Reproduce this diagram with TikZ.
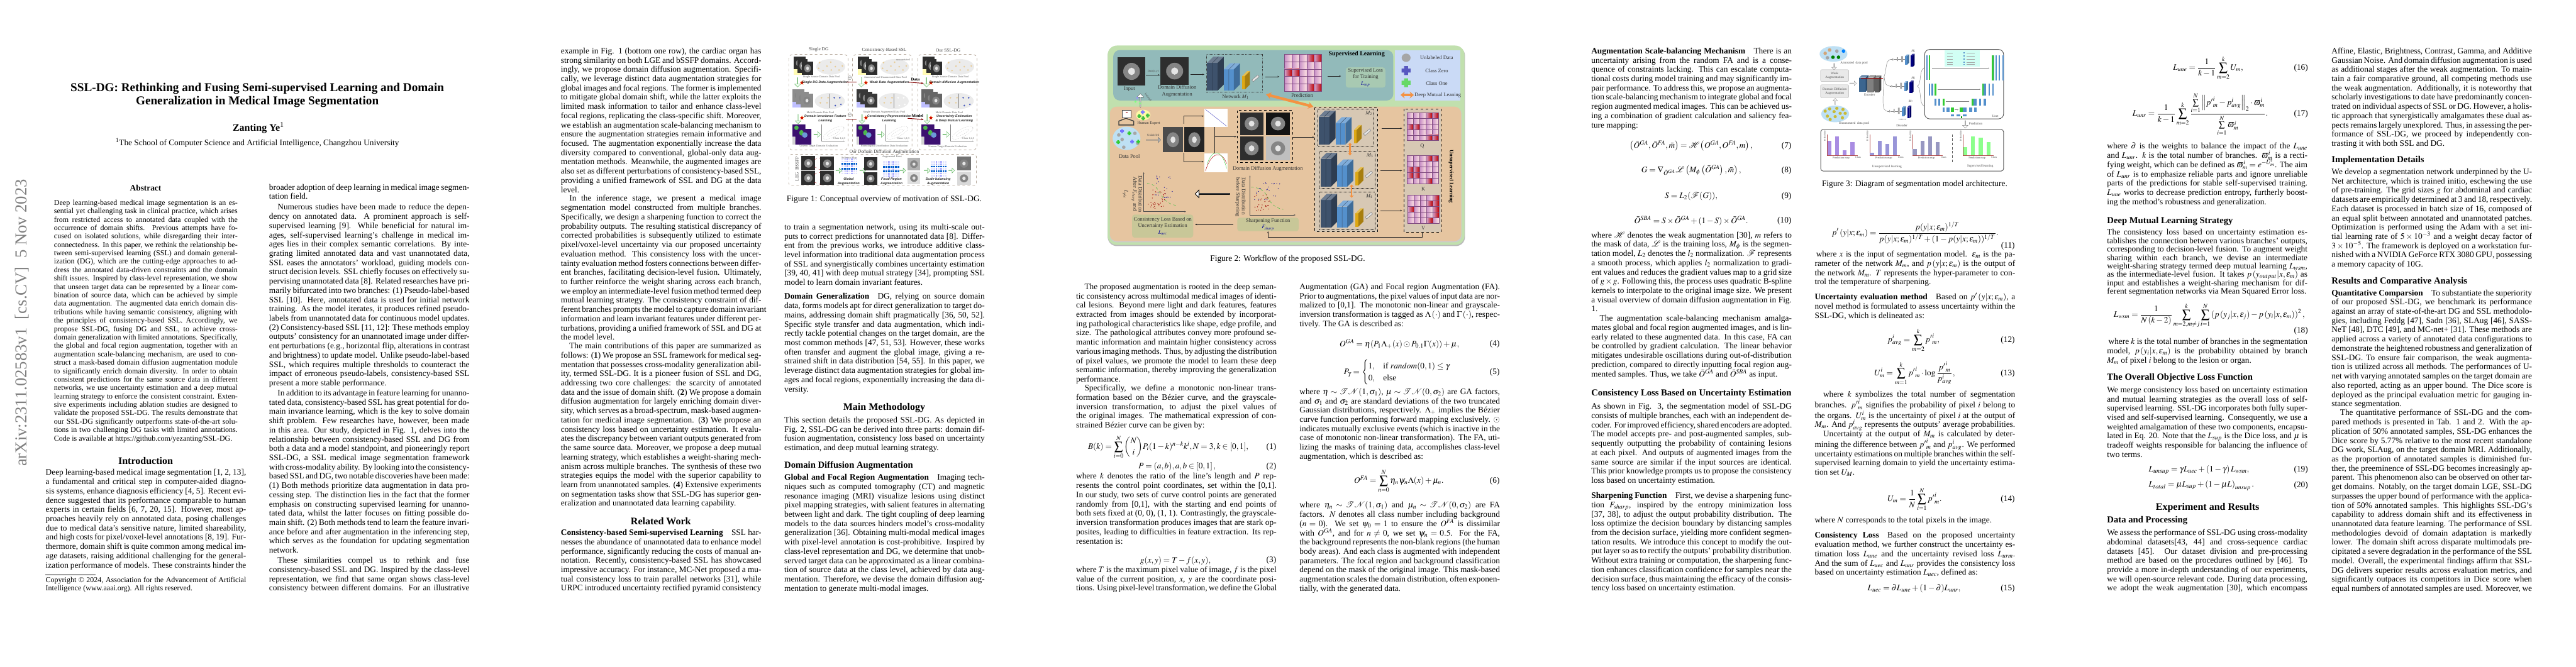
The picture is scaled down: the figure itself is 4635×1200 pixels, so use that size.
\documentclass[tikz,border=0pt]{standalone}
\usepackage{amsmath,amsfonts,amssymb}
\usepackage{mathptmx}
\usepackage[no-math]{fontspec}
\setmainfont{Liberation Serif}
\newfontfamily\figsans{Liberation Sans}
\usetikzlibrary{positioning,shapes.arrows,shapes.geometric,arrows.meta}
\hfuzz=20pt \hbadness=10000 \vbadness=10000
\definecolor{outgreen}{RGB}{193,224,174}
\definecolor{tealpan}{RGB}{146,186,186}
\definecolor{legblue}{RGB}{202,218,246}
\definecolor{orgpan}{RGB}{230,197,160}
\definecolor{tanbox}{RGB}{215,200,180}
\definecolor{lossbox}{RGB}{190,200,150}
\definecolor{suploss}{RGB}{168,201,178}
\definecolor{netdark}{RGB}{62,82,108}
\definecolor{netblue}{RGB}{84,144,204}
\definecolor{netyel}{RGB}{222,168,20}
\definecolor{dmlorange}{RGB}{244,146,66}
\definecolor{dotan}{RGB}{232,204,150}
\definecolor{dotblue}{RGB}{70,90,190}
\definecolor{purp}{RGB}{60,16,112}
\definecolor{poolblue}{RGB}{190,224,244}
\newlength{\colw}
\setlength{\colw}{238bp}
\newcommand{\LL}[1]{\hbox to \colw{\vrule height .66\baselineskip depth .34\baselineskip width 0pt #1}}
\newcommand{\LE}[1]{\hbox{\vrule height .66\baselineskip depth .34\baselineskip width 0pt #1}}
\newcommand{\ind}{\hspace*{10bp}}
\newcommand{\blk}[5]{\node[#1] (#2) at (#3,#4) {\vtop{\lineskiplimit=-100pt #5}};}
\newcommand{\num}[4]{\node[eqnum] (#1) at (#2,#3) {(#4)};}
\newcommand{\scan}[5][black!82]{\fill[#1] (#2,#3) rectangle (#4,#5);
	\fill[black!48] ({(#2+#4)/2},{(#3+#5)/2}) ellipse ({(#4-#2)*.3} and {(#5-#3)*.3});
	\fill[black!10] ({(#2+#4)/2},{(#3+#5)/2}) ellipse ({(#4-#2)*.12} and {(#5-#3)*.13});}
\newcommand{\blockt}[6]{\fill[#6] (#1,#2) rectangle ({#1+#3},{#2+#4});
	\fill[#6!75!white] (#1,#2) -- ({#1+#5},{#2-#5}) -- ({#1+#3+#5},{#2-#5}) -- ({#1+#3},#2) -- cycle;
	\fill[#6!75!black] ({#1+#3},#2) -- ({#1+#3+#5},{#2-#5}) -- ({#1+#3+#5},{#2+#4-#5}) -- ({#1+#3},{#2+#4}) -- cycle;}
\newcommand{\netw}[2]{\begin{scope}[shift={(#1,#2)}]
	\blockt{0}{10}{19}{50}{11}{netdark}
	\draw[netdark!60!black,line width=.3pt] (9.5,10) -- (9.5,60) (9.5,10) -- (20.5,-1);
	\blockt{30}{22}{18}{38}{11}{netblue}
	\draw[netdark,line width=.3pt] (39,22) -- (39,60) (39,22) -- (50,11);
	\blockt{63}{34}{5}{24}{9}{netyel}
	\draw[white,rotate around={40:(87,38)},fill=gray!20,draw=gray] (80,36) rectangle (94,40);
	\end{scope}}
\newcommand{\predgrid}[5]{\begin{scope}[shift={(#1,#2)},x=#3*.13204bp,y=-#4*.13204bp]
	\foreach \r in {0,...,4}\foreach \c in {0,...,4}
		\shade[left color=violet!45!white,right color=pink!45!white,draw=violet!40!gray,line width=.3pt] (\c,\r) rectangle ({\c+1},{\r+1});
	\foreach \r/\c in {#5}
		\shade[left color=violet!35!white,right color=red!75!black,draw=violet!40!gray,line width=.3pt] (\c,\r) rectangle ({\c+1},{\r+1});
	\end{scope}}
\newcommand{\salgrid}[3]{\begin{scope}[shift={(#1,#2)},scale=#3/7]
	\fill[blue!10] (0,0) rectangle (7,7);
	\fill[blue!32] (2,0) rectangle (3,7) (4,0) rectangle (5,7);
	\fill[blue!55!cyan!80!black] (0,2) rectangle (7,3) (0,4) rectangle (7,5);
	\foreach \k in {0,...,7} \draw[white,line width=.2pt] (\k,0) -- (\k,7) (0,\k) -- (7,\k);
	\end{scope}}
\newcommand{\plusdot}[4]{\fill[#4] ({#1-#3},{#2-#3*.45}) rectangle ({#1+#3},{#2+#3*.45}) ({#1-#3*.45},{#2-#3}) rectangle ({#1+#3*.45},{#2+#3});}
\newcommand{\scat}[6]{\foreach \i in {1,...,#6} \fill[#5] ({#1+rnd*#3},{#2+rnd*#4}) circle (.75);}
\newcommand{\decod}[2]{\begin{scope}[shift={(#1,#2)}]
	\fill[gray!70] (0,-2) rectangle (1.5,2) (8,-4) rectangle (10,3) (16,-6) rectangle (19,5);
	\draw[gray,line width=.3pt] (-3,0) -- (0,0) (2,0) -- (8,0) (10,0) -- (16,0) (19,0) -- (23,0);
	\blockt{23}{-6}{4}{15}{3}{netblue}
	\blockt{33}{-7}{4}{20}{3}{blue!50!black}
	\end{scope}}
\newcommand{\figcol}[8]{\begin{scope}[shift={(#1,98)}]
	\draw[dashed,gray!70!brown,rounded corners=5bp,line width=.35pt] (0,0) rectangle (107,172);
	\fill[yellow!30] (9,18) rectangle (28,37);
	\scan{9}{4}{30}{27}
	\scan{16}{8}{34}{33}
	\scan{24}{13}{44}{37}
	\fill[gray!16] (75.7,22.3) ellipse (26 and 14);
	\foreach \a/\b in {55.7/14.7,54/25,62/29,69/21,75.7/14,76.7/28,84/22,90.7/28,96.7/20.7} \fill[dotan] (\a,\b) circle (1.6);
	\node[flab] (#2pool) at (59,41) {#3};
	\node[oarrow,shape border rotate=270,minimum height=11bp] (#2a) at (16,50) {};
	\node[redstar] (#2s) at (24,51) {};
	\node[faug] (#2aug) at (66,50) {#4};
	\fill[blue!25] (7,80) rectangle (28,95);
	\scan[#8]{7}{63}{28}{85}
	\scan[#8]{14}{67}{36}{90}
	\scan[#8]{22}{71}{44}{95}
	\fill[gray!16] (74,84) ellipse (27 and 14.5);
	\draw[gray,line width=.4pt] (74,71) -- (74,97);
	\foreach \a/\b in {59/78,57/87,71/78,69/87} \fill[dotan] (\a,\b) circle (1.6);
	\foreach \a/\b in {82/78,92/78,84/92,94/90} \fill[#7] (\a,\b) circle (1.6);
	\node[flab] (#2mid) at (57,104) {#5};
	\node[oarrow,shape border rotate=270,minimum height=11bp] (#2b) at (17,116) {};
	\node[redstar] (#2t) at (24,114) {};
	\node[faug] (#2fea) at (66,116) {#6};
	\fill[gray!35] (7,140) rectangle (30,162);
	\fill[purp] (7,126) rectangle (30,148) (19,134) rectangle (41,157) (12,142) rectangle (41,162);
	\fill[green!60!black!70] (14,132) ellipse (4 and 4) (23,141) ellipse (4 and 5);
	\fill[cyan!50!blue!60] (29,145) ellipse (5 and 5);
	\node[oarrow,minimum height=8bp] (#2c) at (51,144) {};
	\draw[gray,line width=.3pt,-{Stealth[length=1.5pt]}] (59,126) -- (59,156) -- (101,156);
	\draw[gray,densely dotted,line width=.25pt,rotate around={28:(81,141)}] (81,141) ellipse (21 and 7) (81,141) ellipse (13 and 3);
	\node[flab] (#2cl) at (91,151) {Class 1,2,3};
	\end{scope}}
\tikzset{txt/.style={anchor=north west,inner sep=0pt,yshift=4.9pt,font=\fontsize{10}{11.04}\selectfont},
	abstx/.style={txt,yshift=-.5pt,font=\fontsize{9}{10.04}\selectfont\setlength{\colw}{218bp}},
	foot/.style={txt,yshift=-.5pt,font=\fontsize{9}{10.04}\selectfont},
	narrow/.style={txt,font=\fontsize{10}{10.04}\selectfont},
	head/.style={inner sep=0pt,font=\fontsize{12}{14}\selectfont\bfseries},
	sub/.style={inner sep=0pt,anchor=west,font=\fontsize{11}{13}\selectfont\bfseries},
	capt/.style={inner sep=0pt,font=\fontsize{10}{12}\selectfont},
	eqnode/.style={inner sep=0pt,font=\fontsize{10}{12}\selectfont},
	eqnum/.style={inner sep=0pt,anchor=east,font=\fontsize{10}{12}\selectfont},
	flab/.style={inner sep=0pt,align=center,text=black!62,font=\fontsize{3.3}{4}\selectfont},
	faug/.style={inner sep=0pt,align=center,text=black!85,font=\figsans\fontsize{3.9}{5.2}\selectfont\bfseries\itshape},
	ftitle/.style={inner sep=0pt,text=black!75,font=\fontsize{5.5}{6.5}\selectfont},
	oarrow/.style={single arrow,draw=green!35!gray,fill=green!6,inner sep=0pt,minimum width=7bp,single arrow head extend=1.2bp,line width=.3pt},
	harrow/.style={single arrow,draw=black,fill=white,inner sep=0pt,minimum width=9bp,single arrow head extend=1.6bp,line width=.6pt},
	garrow/.style={single arrow,draw=gray,fill=white,inner sep=0pt,minimum width=6.5bp,single arrow head extend=1.2bp,line width=.3pt},
	redstar/.style={star,star points=5,star point ratio=2.2,fill=red!80!black,draw=orange,line width=.15pt,minimum size=5bp,inner sep=0pt},
	wlab/.style={inner sep=0pt,align=center,text=black!80,font=\fontsize{6.3}{7.6}\selectfont},
	wbox/.style={wlab,rounded corners=3bp,line width=.2pt},
	tinyl/.style={inner sep=0pt,text=black!70,font=\fontsize{3.5}{4}\selectfont},
	slab/.style={inner sep=0pt,align=center,text=black!70,font=\fontsize{3.9}{5}\selectfont},
	arr/.style={-{Stealth[length=2.4pt]},line width=.55pt,black!85},
	augbox/.style={slab,draw=gray!60,fill=gray!17,rounded corners=1.5bp,minimum width=33.5bp,minimum height=14bp,line width=.3pt},
}
\begin{document}
\begin{tikzpicture}[x=.66019bp,y=-.66019bp]
	\useasboundingbox (0,0) rectangle (4635,1200);
	\fill[white] (0,0) rectangle (4635,1200);
	%% page 1
	\node[inner sep=0pt,rotate=90,text=black!50,font=\fontsize{20}{20}\selectfont] (stamp) at (40,581) {arXiv:2311.02583v1\ \ [cs.CV]\ \ 5 Nov 2023};
	\node[inner sep=0pt,font=\fontsize{14.4}{15.6}\selectfont\bfseries,align=center] (title) at (463,171) {SSL-DG: Rethinking and Fusing Semi-supervised Learning and Domain\\Generalization in Medical Image Segmentation};
	\node[inner sep=0pt,font=\fontsize{12}{14}\selectfont\bfseries] (author) at (465,230) {Zanting Ye\textsuperscript{\mdseries 1}};
	\node[capt] (affil) at (463,257) {\textsuperscript{1}The School of Computer Science and Artificial Intelligence, Changzhou University};
	\node[inner sep=0pt,font=\fontsize{10}{12}\selectfont\bfseries] (abshead) at (262,338) {Abstract};
	\blk{abstx}{abs}{97}{365.5}{
		\LL{Deep learning-based medical image segmentation is an es-}
		\LL{sential yet challenging task in clinical practice, which arises}
		\LL{from restricted access to annotated data coupled with the}
		\LL{occurrence of domain shifts. Previous attempts have fo-}
		\LL{cused on isolated solutions, while disregarding their inter-}
		\LL{connectedness. In this paper, we rethink the relationship be-}
		\LL{tween semi-supervised learning (SSL) and domain general-}
		\LL{ization (DG), which are the cutting-edge approaches to ad-}
		\LL{dress the annotated data-driven constraints and the domain}
		\LL{shift issues. Inspired by class-level representation, we show}
		\LL{that unseen target data can be represented by a linear com-}
		\LL{bination of source data, which can be achieved by simple}
		\LL{data augmentation. The augmented data enrich domain dis-}
		\LL{tributions while having semantic consistency, aligning with}
		\LL{the principles of consistency-based SSL. Accordingly, we}
		\LL{propose SSL-DG, fusing DG and SSL, to achieve cross-}
		\LL{domain generalization with limited annotations. Specifically,}
		\LL{the global and focal region augmentation, together with an}
		\LL{augmentation scale-balancing mechanism, are used to con-}
		\LL{struct a mask-based domain diffusion augmentation module}
		\LL{to significantly enrich domain diversity. In order to obtain}
		\LL{consistent predictions for the same source data in different}
		\LL{networks, we use uncertainty estimation and a deep mutual}
		\LL{learning strategy to enforce the consistent constraint. Exten-}
		\LL{sive experiments including ablation studies are designed to}
		\LL{validate the proposed SSL-DG. The results demonstrate that}
		\LL{our SSL-DG significantly outperforms state-of-the-art solu-}
		\LL{tions in two challenging DG tasks with limited annotations.}
		\LE{Code is available at https://github.com/yezanting/SSL-DG.}}
	\node[head] (intro) at (262,829) {Introduction};
	\blk{txt}{introtxt}{82}{851.4}{
		\LL{Deep learning-based medical image segmentation [1, 2, 13],}
		\LL{a fundamental and critical step in computer-aided diagno-}
		\LL{sis systems, enhance diagnosis efficiency [4, 5]. Recent evi-}
		\LL{dence suggested that its performance comparable to human}
		\LL{experts in certain fields [6, 7, 20, 15]. However, most ap-}
		\LL{proaches heavily rely on annotated data, posing challenges}
		\LL{due to medical data's sensitive nature, limited shareability,}
		\LL{and high costs for pixel/voxel-level annotations [8, 19]. Fur-}
		\LL{thermore, domain shift is quite common among medical im-}
		\LL{age datasets, raising additional challenging for the general-}
		\LL{ization performance of models. These constraints hinder the}}
	\coordinate (rulea) at (82,1034);
	\coordinate (ruleb) at (172,1034);
	\draw[line width=.4pt] (rulea) -- (ruleb);
	\blk{foot}{copyr}{82}{1044.7}{
		\LL{Copyright \textcopyright\ 2024, Association for the Advancement of Artificial}
		\LE{Intelligence (www.aaai.org). All rights reserved.}}
	\blk{txt}{pa}{484}{338}{
		\LL{broader adoption of deep learning in medical image segmen-}
		\LE{tation field.}}
	\blk{txt}{pb}{484}{373.9}{
		\LL{\ind Numerous studies have been made to reduce the depen-}
		\LL{dency on annotated data. A prominent approach is self-}
		\LL{supervised learning [9]. While beneficial for natural im-}
		\LL{ages, self-supervised learning's challenge in medical im-}
		\LL{ages lies in their complex semantic correlations. By inte-}
		\LL{grating limited annotated data and vast unannotated data,}
		\LL{SSL eases the annotators' workload, guiding models con-}
		\LL{struct decision levels. SSL chiefly focuses on effectively su-}
		\LL{pervising unannotated data [8]. Related researches have pri-}
		\LL{marily bifurcated into two branches: (1) Pseudo-label-based}
		\LL{SSL [10]. Here, annotated data is used for initial network}
		\LL{training. As the model iterates, it produces refined pseudo-}
		\LL{labels from unannotated data for continuous model updates.}
		\LL{(2) Consistency-based SSL [11, 12]: These methods employ}
		\LL{outputs' consistency for an unannotated image under differ-}
		\LL{ent perturbations (e.g., horizontal flip, alterations in contrast}
		\LL{and brightness) to update model. Unlike pseudo-label-based}
		\LL{SSL, which requires multiple thresholds to counteract the}
		\LL{impact of erroneous pseudo-labels, consistency-based SSL}
		\LE{present a more stable performance.}}
	\blk{txt}{pc}{484}{708.3}{
		\LL{\ind In addition to its advantage in feature learning for unanno-}
		\LL{tated data, consistency-based SSL has great potential for do-}
		\LL{main invariance learning, which is the key to solve domain}
		\LL{shift problem. Few researches have, however, been made}
		\LL{in this area. Our study, depicted in Fig. 1, delves into the}
		\LL{relationship between consistency-based SSL and DG from}
		\LL{both a data and a model standpoint, and pioneeringly report}
		\LL{SSL-DG, a SSL medical image segmentation framework}
		\LL{with cross-modality ability. By looking into the consistency-}
		\LL{based SSL and DG, two notable discoveries have been made:}
		\LL{(1) Both methods prioritize data augmentation in data pro-}
		\LL{cessing step. The distinction lies in the fact that the former}
		\LL{emphasis on constructing supervised learning for unanno-}
		\LL{tated data, whilst the latter focuses on fitting possible do-}
		\LL{main shift. (2) Both methods tend to learn the feature invari-}
		\LL{ance before and after augmentation in the inferencing step,}
		\LL{which serves as the foundation for updating segmentation}
		\LE{network.}}
	\blk{txt}{pd}{484}{1009.5}{
		\LL{\ind These similarities compel us to rethink and fuse}
		\LL{consistency-based SSL and DG. Inspired by the class-level}
		\LL{representation, we find that same organ shows class-level}
		\LL{consistency between different domains. For an illustrative}}
	%% page 2
	\blk{txt}{qa}{1009}{92.6}{
		\LL{example in Fig. 1 (bottom one row), the cardiac organ has}
		\LL{strong similarity on both LGE and bSSFP domains. Accord-}
		\LL{ingly, we propose domain diffusion augmentation. Specifi-}
		\LL{cally, we leverage distinct data augmentation strategies for}
		\LL{global images and focal regions. The former is implemented}
		\LL{to mitigate global domain shift, while the latter exploits the}
		\LL{limited mask information to tailor and enhance class-level}
		\LL{focal regions, replicating the class-specific shift. Moreover,}
		\LL{we establish an augmentation scale-balancing mechanism to}
		\LL{ensure the augmentation strategies remain informative and}
		\LL{focused. The augmentation exponentially increase the data}
		\LL{diversity compared to conventional, global-only data aug-}
		\LL{mentation methods. Meanwhile, the augmented images are}
		\LL{also set as different perturbations of consistency-based SSL,}
		\LL{providing a unified framework of SSL and DG at the data}
		\LE{level.}}
	\blk{txt}{qb}{1009}{358.2}{
		\LL{\ind In the inference stage, we present a medical image}
		\LL{segmentation model constructed from multiple branches.}
		\LL{Specifically, we design a sharpening function to correct the}
		\LL{probability outputs. The resulting statistical discrepancy of}
		\LL{corrected probabilities is subsequently utilized to estimate}
		\LL{pixel/voxel-level uncertainty via our proposed uncertainty}
		\LL{evaluation method. This consistency loss with the uncer-}
		\LL{tainty evaluation method fosters connections between differ-}
		\LL{ent branches, facilitating decision-level fusion. Ultimately,}
		\LL{to further reinforce the weight sharing across each branch,}
		\LL{we employ an intermediate-level fusion method termed deep}
		\LL{mutual learning strategy. The consistency constraint of dif-}
		\LL{ferent branches prompts the model to capture domain invariant}
		\LL{information and learn invariant features under different per-}
		\LL{turbations, providing a unified framework of SSL and DG at}
		\LE{the model level.}}
	\blk{txt}{qc}{1009}{623.7}{
		\LL{\ind The main contributions of this paper are summarized as}
		\LL{follows: (\textbf{1}) We propose an SSL framework for medical seg-}
		\LL{mentation that possesses cross-modality generalization abil-}
		\LL{ity, termed SSL-DG. It is a pioneer fusion of SSL and DG,}
		\LL{addressing two core challenges: the scarcity of annotated}
		\LL{data and the issue of domain shift. (\textbf{2}) We propose a domain}
		\LL{diffusion augmentation for largely enriching domain diver-}
		\LL{sity, which serves as a broad-spectrum, mask-based augmen-}
		\LL{tation for medical image segmentation. (\textbf{3}) We propose an}
		\LL{consistency loss based on uncertainty estimation. It evalu-}
		\LL{ates the discrepancy between variant outputs generated from}
		\LL{the same source data. Moreover, we propose a deep mutual}
		\LL{learning strategy, which establishes a weight-sharing mech-}
		\LL{anism across multiple branches. The synthesis of these two}
		\LL{strategies equips the model with the superior capability to}
		\LL{learn from unannotated samples. (\textbf{4}) Extensive experiments}
		\LL{on segmentation tasks show that SSL-DG has superior gen-}
		\LE{eralization and unannotated data learning capability.}}
	\node[head] (related) at (1189,938) {Related Work};
	\blk{txt}{qd}{1009}{959.7}{
		\LL{\textbf{Consistency-based Semi-supervised Learning}\quad SSL har-}
		\LL{nesses the abundance of unannotated data to enhance model}
		\LL{performance, significantly reducing the costs of manual an-}
		\LL{notation. Recently, consistency-based SSL has showcased}
		\LL{impressive accuracy. For instance, MC-Net proposed a mu-}
		\LL{tual consistency loss to train parallel networks [31], while}
		\LL{URPC introduced uncertainty rectified pyramid consistency}}
	%% figure 1
	\node[ftitle] (t1) at (1473,89) {Single DG};
	\node[ftitle] (t2) at (1591,90) {Consistency-Based SSL};
	\node[ftitle] (t3) at (1706,91) {Our SSL-DG};
	\figcol{1419}{ca}{Single Source Domain Data Pool}{Single DG Data Augmentation}{Multi Domain Data Pool}{Domain Invariance Feature\\Learning}{dotblue}{black!45}
	\figcol{1534}{cb}{Annotated and Unannotated Data Pool}{Weak Data Augmentation}{Single Domain Augmented Data Pool}{Consistency Representation\\Learning}{white}{black!78}
	\figcol{1651}{cc}{Single Source Domain Data Pool}{Domain diffusion Augmentation}{Multi Domain Data Pool}{Uncertainty Estimation\\\& Deep Mutual Learning}{dotblue}{black!60}
	\node[flab] (un1) at (1473,263) {Unseen Target Domain Evaluation};
	\node[flab] (un2) at (1591,263) {Homologous Distribution Data Evaluation};
	\node[flab] (un3) at (1705,264) {Unseen Target Domain Evaluation};
	\node[flab] (unann) at (1625,108) {unannotated};
	\coordinate (dl1) at (1523,148); \coordinate (dl2) at (1541,148);
	\coordinate (ml1) at (1522,214); \coordinate (ml2) at (1541,214);
	\coordinate (dr1) at (1635,148); \coordinate (dr2) at (1662,150);
	\coordinate (mr1) at (1633,213); \coordinate (mr2) at (1662,215);
	\draw[red!50!black,line width=.7pt] (dl1) -- (dl2);
	\draw[red!50!black,line width=.7pt] (ml1) -- (ml2);
	\draw[red!50!black,line width=.7pt,-{Stealth[length=3pt]}] (dr1) -- (dr2);
	\draw[red!50!black,line width=.7pt,-{Stealth[length=3pt]}] (mr1) -- (mr2);
	\node[inner sep=0pt,font=\fontsize{7}{8}\selectfont] (op1) at (1529,141) {$\oplus$};
	\node[inner sep=0pt,font=\fontsize{7}{8}\selectfont] (op2) at (1529,207) {$\oplus$};
	\node[inner sep=0pt,font=\fontsize{5}{6}\selectfont\bfseries] (datal) at (1647,143) {Data};
	\node[inner sep=0pt,font=\fontsize{5}{6}\selectfont\bfseries] (modell) at (1651,208) {Model};
	\node[ftitle] (t4) at (1591,274) {Our Domain Diffusion Augmentation};
	\draw[dashed,gray!70!brown,rounded corners=3bp,line width=.35pt] (1419,278) rectangle (1757,334);
	\node[ftitle,rotate=90] (bs) at (1434,294) {BSSFP};
	\node[ftitle,rotate=90] (lg) at (1434,318) {LEG};
	\scan{1442}{281}{1467}{307}
	\scan{1442}{308}{1467}{333}
	\scan{1476}{282}{1501}{307}
	\scan{1476}{308}{1501}{333}
	\draw[red!60!black,dashed,line width=.25pt] (1465,287) -- (1476,284) (1465,300) -- (1476,306) (1465,314) -- (1476,310) (1465,328) -- (1476,332);
	\salgrid{1513}{284}{30}
	\salgrid{1588}{289}{30}
	\salgrid{1674}{289}{29}
	\node[flab] (sm) at (1528,284) {Saliency Map};
	\node[flab] (ap) at (1605,282) {Augmented Point};
	\node[faug] (ga) at (1527,327) {Global\\Augmentation};
	\node[faug] (fa) at (1604,327) {Focal Region\\Augmentation};
	\node[faug] (sa) at (1688,327) {Scale-balancing\\Augmentation};
	\foreach \ax in {1509,1552,1624,1668,1712} \node[oarrow,minimum height=7bp,minimum width=6bp] at (\ax,307) {};
	\scan{1555}{283}{1578}{307}
	\scan{1555}{310}{1578}{333}
	\scan[black!30]{1633}{284}{1656}{307}
	\scan[black!12]{1633}{309}{1656}{332}
	\scan[black!55]{1722}{282}{1747}{307}
	\scan[black!15]{1722}{309}{1747}{333}
	\node[capt] (cap1) at (1591,358.6) {Figure 1: Conceptual overview of motivation of SSL-DG.};
	%% page 2 column 2
	\blk{txt}{ra}{1411}{409.5}{
		\LL{to train a segmentation network, using its multi-scale out-}
		\LL{puts to correct predictions for unannotated data [8]. Differ-}
		\LL{ent from the previous works, we introduce additive class-}
		\LL{level information into traditional data augmentation process}
		\LL{of SSL and synergistically combines uncertainty estimation}
		\LL{[39, 40, 41] with deep mutual strategy [34], prompting SSL}
		\LE{model to learn domain invariant features.}}
	\blk{txt}{rb}{1411}{534.6}{
		\LL{\textbf{Domain Generalization}\quad DG, relying on source domain}
		\LL{data, forms models apt for direct generalization to target do-}
		\LL{mains, addressing domain shift pragmatically [36, 50, 52].}
		\LL{Specific style transfer and data augmentation, which indi-}
		\LL{rectly tackle potential changes on the target domain, are the}
		\LL{most common methods [47, 51, 53]. However, these works}
		\LL{often transfer and augment the global image, giving a re-}
		\LL{strained shift in data distribution [54, 55]. In this paper, we}
		\LL{leverage distinct data augmentation strategies for global im-}
		\LL{ages and focal regions, exponentially increasing the data di-}
		\LE{versity.}}
	\node[head] (mainm) at (1591,734) {Main Methodology};
	\blk{txt}{rc}{1411}{757}{
		\LL{This section details the proposed SSL-DG. As depicted in}
		\LL{Fig. 2, SSL-DG can be derived into three parts: domain dif-}
		\LL{fusion augmentation, consistency loss based on uncertainty}
		\LE{estimation, and deep mutual learning strategy.}}
	\node[sub] (dda) at (1411,838) {Domain Diffusion Augmentation};
	\blk{txt}{rd}{1411}{860.2}{
		\LL{\textbf{Global and Focal Region Augmentation}\quad Imaging tech-}
		\LL{niques such as computed tomography (CT) and magnetic}
		\LL{resonance imaging (MRI) visualize lesions using distinct}
		\LL{pixel mapping strategies, with salient features in alternating}
		\LL{between light and dark. The tight coupling of deep learning}
		\LL{models to the data sources hinders model's cross-modality}
		\LL{generalization [36]. Obtaining multi-modal medical images}
		\LL{with pixel-level annotation is cost-prohibitive. Inspired by}
		\LL{class-level representation and DG, we determine that unob-}
		\LL{served target data can be approximated as a linear combina-}
		\LL{tion of source data at the class level, achieved by data aug-}
		\LL{mentation. Therefore, we devise the domain diffusion aug-}
		\LE{mentation to generate multi-modal images.}}
	%% figure 2
	\fill[gray!55,rounded corners=11bp] (1993,84) rectangle (2636,443);
	\fill[outgreen,rounded corners=11bp] (1993,82) rectangle (2635,441);
	\fill[tealpan,rounded corners=8bp] (2003,90) rectangle (2507,181);
	\fill[legblue] (2510,90) rectangle (2628,181);
	\fill[gray!40,rounded corners=8bp] (1997,193) rectangle (2630,436);
	\fill[orgpan,rounded corners=8bp] (1997,192) rectangle (2629,434);
	\scan{2011}{103}{2061}{154}
	\scan{2088}{103}{2139}{153}
	\node[wlab] (input) at (2032,160) {Input};
	\node[wlab] (ddlab) at (2118,164) {Domain Diffusion\\Augmentation};
	\coordinate (ia) at (2062,135); \coordinate (ib) at (2087,135);
	\draw[arr] (ia) -- (ib);
	\node[tinyl] (dataxy) at (2075,128) {Data(x,y)};
	\coordinate (ic) at (2142,134); \coordinate (id) at (2167,134);
	\draw[arr] (ic) -- (id);
	\draw[densely dotted,black!80,line width=.6pt] (2171,98) rectangle (2272,166);
	\node[wlab] (netm) at (2223,174) {Network $M_1$};
	\coordinate (ie) at (2277,138); \coordinate (if) at (2302,138);
	\draw[arr] (ie) -- (if);
	\predgrid{2311}{98}{67}{66}{0/3,0/4,2/0,2/1,4/3,4/4}
	\node[wlab] (predl) at (2343,172) {Prediction};
	\node[wlab,font=\fontsize{7.5}{9}\selectfont\bfseries,text=black] (suphead) at (2441,98) {Supervised Learning};
	\coordinate (ig) at (2389,137); \coordinate (ih) at (2413,137);
	\draw[arr] (ig) -- (ih);
	\node[wbox,fill=suploss,minimum width=47bp,minimum height=24bp] (suploss) at (2457,139.5) {Supervised Loss\\for Training\\{\color{blue!60!black}$L_{sup}$}};
	\foreach \ly/\lt in {104/Unlabeled Data,128/Class Zero,150/Class One} \node[wlab] at (2585,\ly) {\lt};
	\fill[black!35] (2530,104) ellipse (8 and 7.5);
	\plusdot{2530}{127}{8}{blue!45!gray!90}
	\plusdot{2530}{149}{8}{green!60!gray!75}
	\node[wlab] (dmll) at (2587,171) {Deep Mutual Leaning};
	\coordinate (lega) at (2520,171); \coordinate (legb) at (2544,171);
	\draw[dmlorange,line width=3pt,{Stealth[length=5pt,width=8pt]}-{Stealth[length=5pt,width=8pt]}] (lega) -- (legb);
	\draw[line width=.7pt,black!70,fill=white] (2019,198) rectangle (2035,212);
	\fill[red!60!black] (2025,201) rectangle (2029,203);
	\draw[line width=1pt,black!75] (2013,225) -- (2013,218) -- (2026,213) -- (2040,218) -- (2040,225) -- cycle;
	\fill[yellow!35!white] (2057,207) ellipse (13 and 9.5);
	\plusdot{2056}{202}{3.5}{blue!50}
	\plusdot{2065}{208}{3.5}{green!50!gray}
	\plusdot{2050}{209}{3.5}{green!50!gray}
	\plusdot{2057}{213}{3.5}{green!50!gray}
	\node[wlab,font=\fontsize{4.6}{5}\selectfont] (hexp) at (2067,222) {Human Expert};
	\node[garrow,draw=black!75,shape border rotate=118,minimum height=16bp,minimum width=8bp] (labarrow) at (2052,181) {};
	\node[tinyl,rotate=-52] (lablab) at (2066,175) {Labeled};
	\plusdot{2046}{176}{1.8}{blue!40}
	\plusdot{2051}{186}{1.8}{green!50}
	\plusdot{2043}{183}{1.8}{green!50}
	\fill[poolblue] (2027,249) ellipse (25 and 21);
	\foreach \a/\b in {2047/258,2042/240,2022/265,2019/251,2013/243} \fill[black!35] (\a,\b) circle (3.2);
	\foreach \a/\b/\c in {2019/236/blue!55,2037/255/blue!55,2032/240/green!60!gray,2012/256/green!60!gray,2048/255/green!60!gray} {\plusdot{\a}{\b}{3.4}{\c}}
	\node[wlab] (dpool) at (2032,281) {Data Pool};
	\node[garrow,draw=black!55,fill=black!30,minimum height=17.5bp] (unlab) at (2075,252) {};
	\node[tinyl] (unll) at (2075,243) {Unlabeled};
	\scan[black!70]{2092}{229}{2129}{274}
	\scan[black!85]{2131}{229}{2167}{274}
	\fill[white] (2167,196) rectangle (2209,229);
	\draw[blue!50!gray,line width=.3pt] (2169,197) -- (2207,227);
	\fill[white] (2167,276) rectangle (2209,310);
	\draw[red!70!black,line width=.35pt] (2169,308) .. controls (2180,270) and (2200,272) .. (2207,295);
	\draw[green!60!gray,line width=.3pt] (2172,296) .. controls (2180,268) and (2198,266) .. (2207,303);
	\coordinate (ba) at (2130,223); \coordinate (bb) at (2130,209); \coordinate (bc) at (2166,209);
	\coordinate (bd) at (2130,275); \coordinate (be) at (2130,291); \coordinate (bf) at (2166,291);
	\draw[arr] (ba) -- (bb) -- (bc);
	\draw[arr] (bd) -- (be) -- (bf);
	\coordinate (va) at (2185,229); \coordinate (vb) at (2185,276); \coordinate (vc) at (2185,246); \coordinate (vd) at (2225,246);
	\draw[line width=.55pt,black!85] (va) -- (vb);
	\draw[arr] (vc) -- (vd);
	\draw[dashed,line width=.8pt] (2226,199) rectangle (2326,293);
	\scan{2231}{202}{2273}{243}
	\scan[black!92]{2278}{202}{2321}{243}
	\scan{2231}{246}{2273}{288}
	\scan[black!25]{2278}{246}{2321}{288}
	\node[wlab] (ddaug) at (2281,304) {Domain Diffusion Augmentation};
	\coordinate (da) at (2326,247); \coordinate (db) at (2365,247);
	\draw[arr] (da) -- (db);
	\draw[dashed,line width=.8pt,fill=tanbox] (2366,194) rectangle (2479,417);
	\draw[densely dotted,line width=.5pt] (2371,196) rectangle (2472,263) (2373,272) rectangle (2474,339) (2373,346) rectangle (2474,413);
	\foreach \bx/\by in {2373/200,2376/276,2376/350} {\netw{\bx}{\by}}
	\netw{2172}{103}
	\node[wlab] (m2) at (2463,204) {$M_2$};
	\node[wlab] (m3) at (2465,280) {$M_3$};
	\node[wlab] (m4) at (2464,353) {$M_4$};
	\coordinate (oa) at (2429,257); \coordinate (ob) at (2429,280); \coordinate (oc) at (2432,332); \coordinate (od) at (2432,356);
	\draw[dmlorange,line width=1.7pt,{Stealth[length=3pt,width=5pt]}-{Stealth[length=3pt,width=5pt]}] (oa) -- (ob);
	\draw[dmlorange,line width=1.7pt,{Stealth[length=3pt,width=5pt]}-{Stealth[length=3pt,width=5pt]}] (oc) -- (od);
	\coordinate (oe) at (2278,170); \coordinate (of) at (2363,192);
	\draw[dmlorange,line width=3.2pt,{Stealth[length=6pt,width=8pt]}-{Stealth[length=6pt,width=8pt]}] (oe) -- (of);
	\draw[dashed,line width=.8pt,fill=tanbox] (2526,196) rectangle (2593,418);
	\predgrid{2532}{203}{56}{50}{0/3,0/4,2/0,2/1,4/3,4/4}
	\predgrid{2532}{280}{56}{51}{0/3,0/4,2/0,2/1,3/0,3/1,4/3}
	\predgrid{2533}{351}{56}{51}{0/4,1/3,1/4,2/0,2/4,3/4,4/3}
	\node[wlab] (qlab) at (2559,263) {Q};
	\node[wlab] (klab) at (2561,340) {K};
	\node[wlab] (vlab) at (2561,410) {V};
	\foreach \ay/\ax in {231/2486,307/2484,379/2484} \draw[arr] (\ax,\ay) -- (2523,\ay);
	\node[wlab,rotate=-90,text=black,font=\fontsize{6.3}{7.5}\selectfont\bfseries] (unsup) at (2611,318) {Unsupervised Learning};
	\node[wbox,fill=lossbox!75!orgpan,minimum width=73bp,minimum height=16bp] (sharp) at (2281.5,404) {Sharpening Function\\{\color{blue!60!black}$F_{sharp}$}};
	\node[wbox,fill=lossbox!75!orgpan,minimum width=72.5bp,minimum height=27.5bp] (cons) at (2092,407) {Consistency Loss Based on\\Uncertainty Estimation\\{\color{blue!60!black}$L_{uec}$}};
	\coordinate (sa1) at (2219,404); \coordinate (sa2) at (2150,404);
	\draw[arr] (sa1) -- (sa2);
	\coordinate (fb1) at (2559,418); \coordinate (fb2) at (2559,427); \coordinate (fb3) at (2281.5,427);
	\draw[arr] (fb1) -- (fb2) -- (fb3) -- (sharp.south);
	\draw[black!70,line width=.3pt,{Stealth[length=2pt]}-{Stealth[length=2pt]}] (2058,310) -- (2058,381) -- (2134,381);
	\draw[black!70,line width=.3pt,{Stealth[length=2pt]}-{Stealth[length=2pt]}] (2249,316) -- (2249,387) -- (2331,387);
	\pgfmathsetseed{17}
	\scat{2078}{315}{32}{42}{blue!60!black}{24}
	\scat{2065}{340}{33}{35}{red!60!black}{38}
	\scat{2257}{328}{46}{35}{blue!60!black}{24}
	\scat{2257}{348}{31}{32}{red!60!black}{32}
	\draw[dashed,green!50!gray,line width=.4pt] (2064,330) .. controls (2092,332) and (2082,365) .. (2118,370);
	\draw[dashed,green!50!gray,line width=.4pt] (2251,337) .. controls (2290,338) and (2272,370) .. (2309,377);
	\node[wlab,rotate=-90] (dd1) at (2052,349) {Data Distribution};
	\node[wlab,rotate=-90] (dd2) at (2041,349) {After $F_{sharp}$ and};
	\node[wlab,rotate=-90] (dd3) at (2025,350) {$L_{plc}$};
	\node[wlab,rotate=-90] (dd4) at (2238,353) {Data Distribution};
	\node[wlab,rotate=-90] (dd5) at (2227,355) {before Sharpening};
	\node[harrow,shape border rotate=180,minimum height=41bp] (hollow) at (2182,349) {};
	\node[capt] (cap2) at (2317,466) {Figure 2: Workflow of the proposed SSL-DG.};
	%% page 3
	\blk{txt}{sa}{1936}{517}{
		\LL{\ind The proposed augmentation is rooted in the deep seman-}
		\LL{tic consistency across multimodal medical images of identi-}
		\LL{cal lesions. Beyond mere light and dark features, features}
		\LL{extracted from images should be extended by incorporat-}
		\LL{ing pathological characteristics like shape, edge profile, and}
		\LL{size. The pathological attributes convey more profound se-}
		\LL{mantic information and maintain higher consistency across}
		\LL{various imaging methods. Thus, by adjusting the distribution}
		\LL{of pixel values, we promote the model to learn these deep}
		\LL{semantic information, thereby improving the generalization}
		\LE{performance.}}
	\blk{txt}{sb}{1936}{699.5}{
		\LL{\ind Specifically, we define a monotonic non-linear trans-}
		\LL{formation based on the Bézier curve, and the grayscale-}
		\LL{inversion transformation, to adjust the pixel values of}
		\LL{the original images. The mathematical expression of con-}
		\LE{strained Bézier curve can be given by:}}
	\node[eqnode] (eq1) at (2102,804.7) {$\displaystyle B(k)=\sum_{i=0}^{N}\binom{N}{i}P_i(1-k)^{n-k}k^i,N=3,k\in[0,1],$};
	\num{n1}{2296.5}{804.7}{1}
	\node[eqnode] (eq2) at (2118,840) {$P=(a,b),a,b\in[0,1]\,,$};
	\num{n2}{2296.5}{840}{2}
	\blk{txt}{sc}{1936}{858.3}{
		\LL{where $k$ denotes the ratio of the line's length and $P$ rep-}
		\LL{resents the control point coordinates, set within the [0,1].}
		\LL{In our study, two sets of curve control points are generated}
		\LL{randomly from [0,1], with the starting and end points of}
		\LL{both sets fixed at (0, 0), (1, 1). Contrastingly, the grayscale-}
		\LL{inversion transformation produces images that are stark op-}
		\LL{posites, leading to difficulties in feature extraction. Its rep-}
		\LE{resentation is:}}
	\node[eqnode] (eq3) at (2115,1009) {$g(x,y)=T-f(x,y),$};
	\num{n3}{2296.5}{1009}{3}
	\blk{txt}{sd}{1936}{1026.3}{
		\LL{where $T$ is the maximum pixel value of image, $f$ is the pixel}
		\LL{value of the current position, $x$, $y$ are the coordinate posi-}
		\LL{tions. Using pixel-level transformation, we define the Global}}
	\blk{txt}{se}{2338}{517}{
		\LL{Augmentation (GA) and Focal region Augmentation (FA).}
		\LL{Prior to augmentations, the pixel values of input data are nor-}
		\LL{malized to [0,1]. The monotonic non-linear and grayscale-}
		\LL{inversion transformation is tagged as $\Lambda\left(\cdot\right)$ and $\Gamma\left(\cdot\right)$, respec-}
		\LE{tively. The GA is described as:}}
	\node[eqnode] (eq4) at (2518,619) {$O^{GA}=\eta(P_1\Lambda_{+}(x)\odot P_{0.1}\Gamma(x))+\mu,$};
	\num{n4}{2698.5}{619}{4}
	\node[eqnode] (eq5) at (2514,670) {$P_\gamma=\begin{cases}1, & \text{if } random(0,1)\le\gamma\\ 0, & \text{else}\end{cases}$};
	\num{n5}{2698.5}{670}{5}
	\blk{txt}{sf}{2338}{705.6}{
		\LL{where $\eta\sim\mathcal{TN}(1,\sigma_1)$, $\mu\sim\mathcal{TN}(0,\sigma_2)$ are GA factors,}
		\LL{and $\sigma_1$ and $\sigma_2$ are standard deviations of the two truncated}
		\LL{Gaussian distributions, respectively. $\Lambda_{+}$ implies the Bézier}
		\LL{curve function performing forward mapping exclusively. $\odot$}
		\LL{indicates mutually exclusive events (which is inactive in the}
		\LL{case of monotonic non-linear transformation). The FA, uti-}
		\LL{lizing the masks of training data, accomplishes class-level}
		\LE{augmentation, which is described as:}}
	\node[eqnode] (eq6) at (2517,866) {$\displaystyle O^{FA}=\sum_{n=0}^{N}\eta_n\psi_n\Lambda(x)+\mu_n.$};
	\num{n6}{2698.5}{866}{6}
	\blk{txt}{sg}{2338}{910}{
		\LL{where $\eta_n\sim\mathcal{TN}(1,\sigma_1)$ and $\mu_n\sim\mathcal{TN}(0,\sigma_2)$ are FA}
		\LL{factors. $N$ denotes all class number including background}
		\LL{($n=0$). We set $\psi_0=1$ to ensure the $O^{FA}$ is dissimilar}
		\LL{with $O^{GA}$, and for $n\neq 0$, we set $\psi_n=0.5$. For the FA,}
		\LL{the background represents the non-blank regions (the human}
		\LL{body areas). And each class is augmented with independent}
		\LL{parameters. The focal region and background classification}
		\LL{depend on the mask of the original image. This mask-based}
		\LL{augmentation scales the domain distribution, often exponen-}
		\LE{tially, with the generated data.}}
	%% page 4
	\blk{txt}{ta}{2863}{92.6}{
		\LL{\textbf{Augmentation Scale-balancing Mechanism}\quad There is an}
		\LL{uncertainty arising from the random FA and is a conse-}
		\LL{quence of constraints lacking. This can escalate computa-}
		\LL{tional costs during model training and may significantly im-}
		\LL{pair performance. To address this, we propose an augmenta-}
		\LL{tion scale-balancing mechanism to integrate global and focal}
		\LL{region augmented medical images. This can be achieved us-}
		\LL{ing a combination of gradient calculation and saliency fea-}
		\LE{ture mapping:}}
	\node[eqnode] (eq7) at (3043,262.5) {$\left(\bar{O}^{GA},\bar{O}^{FA},\bar{m}\right)=\mathcal{H}\left(O^{GA},O^{FA},m\right),$};
	\num{n7}{3223.5}{262.5}{7}
	\node[eqnode] (eq8) at (3043,307) {$G=\nabla_{\bar{O}^{GA}}\mathcal{L}\left(M_\phi\left(\bar{O}^{GA}\right),\bar{m}\right),$};
	\num{n8}{3223.5}{307}{8}
	\node[eqnode] (eq9) at (3043,353) {$S=L_2(\mathcal{F}(G)),$};
	\num{n9}{3223.5}{353}{9}
	\node[eqnode] (eq10) at (3043,398) {$\bar{O}^{SBA}=S\times\bar{O}^{GA}+(1-S)\times\bar{O}^{GA}.$};
	\num{n10}{3223.5}{398}{10}
	\blk{txt}{tb}{2863}{424}{
		\LL{where $\mathcal{H}$ denotes the weak augmentation [30], $m$ refers to}
		\LL{the mask of data, $\mathcal{L}$ is the training loss, $M_\phi$ is the segmen-}
		\LL{tation model, $L_2$ denotes the $l_2$ normalization. $\mathcal{F}$ represents}
		\LL{a smooth process, which applies $l_2$ normalization to gradi-}
		\LL{ent values and reduces the gradient values map to a grid size}
		\LL{of $g\times g$. Following this, the process uses quadratic B-spline}
		\LL{kernels to interpolate to the original image size. We present}
		\LL{a visual overview of domain diffusion augmentation in Fig.}
		\LE{1.}}
	\blk{txt}{tc}{2863}{574}{
		\LL{\ind The augmentation scale-balancing mechanism amalga-}
		\LL{mates global and focal region augmented images, and is lin-}
		\LL{early related to these augmented data. In this case, FA can}
		\LL{be controlled by gradient calculation. The linear behavior}
		\LL{mitigates undesirable oscillations during out-of-distribution}
		\LL{prediction, compared to directly inputting focal region aug-}
		\LE{mented samples. Thus, we take $\bar{O}^{GA}$ and $\bar{O}^{SBA}$ as input.}}
	\node[sub] (clb) at (2863,708) {Consistency Loss Based on Uncertainty Estimation};
	\blk{txt}{td}{2863}{732.4}{
		\LL{As shown in Fig. 3, the segmentation model of SSL-DG}
		\LL{consists of multiple branches, each with an independent de-}
		\LL{coder. For improved efficiency, shared encoders are adopted.}
		\LL{The model accepts pre- and post-augmented samples, sub-}
		\LL{sequently outputting the probability of containing lesions}
		\LL{at each pixel. And outputs of augmented images from the}
		\LL{same source are similar if the input sources are identical.}
		\LL{This prior knowledge prompts us to propose the consistency}
		\LE{loss based on uncertainty estimation.}}
	\blk{txt}{te}{2863}{893}{
		\LL{\textbf{Sharpening Function}\quad First, we devise a sharpening func-}
		\LL{tion $F_{sharp}$, inspired by the entropy minimization loss}
		\LL{[37, 38], to adjust the output probability distribution. The}
		\LL{loss optimize the decision boundary by distancing samples}
		\LL{from the decision surface, yielding more confident segmen-}
		\LL{tation results. We introduce this concept to modify the out-}
		\LL{put layer so as to rectify the outputs' probability distribution.}
		\LL{Without extra training or computation, the sharpening func-}
		\LL{tion enhances classification confidence for samples near the}
		\LL{decision surface, thus maintaining the efficacy of the consis-}
		\LE{tency loss based on uncertainty estimation.}}
	%% figure 3
	\fill[poolblue] (3299,97) ellipse (25 and 14);
	\foreach \a/\b/\c in {3284/96/brown!70,3292/90/brown!70,3305/92/black!35,3317/92/blue!50!cyan,3288/104/black!35,3298/103/green!50!black,3308/103/green!50!black} \fill[\c] (\a,\b) circle (3.2);
	\node[slab] (apool) at (3336,113) {Annotated\ \ data pool};
	\node[augbox] (weak) at (3301,136) {Weak\\Augmentation};
	\node[augbox,below=3.6bp of weak,minimum height=15.5bp] (ddbox) {Domain Diffusion\\Augmentation};
	\node[garrow,shape border rotate=270,minimum height=7.5bp,minimum width=5.5bp] (aa) at (3300,119.5) {};
	\node[garrow,shape border rotate=90,minimum height=7.5bp,minimum width=5.5bp] (ab) at (3302,183) {};
	\node[garrow,minimum height=8bp,minimum width=5.5bp] (ac) at (3334,150) {};
	\fill[poolblue] (3302,205) ellipse (25 and 15);
	\foreach \a/\b in {3284/200,3292/196,3305/195,3316/197,3320/204,3300/201,3311/204,3288/209,3302/210,3315/212,3293/215} \fill[brown!35!yellow!70!gray] (\a,\b) circle (2.9);
	\node[slab] (upool) at (3336,222) {Unannotated\ \ data pool};
	\blockt{3345}{140}{12}{25}{5}{netblue!70!black}
	\blockt{3360}{140}{11}{26}{5}{gray}
	\blockt{3373}{140}{8}{26}{4}{gray!75!black}
	\draw[red!60!black,line width=.3pt] (3348,141) -- (3388,141);
	\node[slab] (encod) at (3364,171) {Encoder};
	\foreach \dx/\dy in {3405/107,3403/155,3399/200} {\decod{\dx}{\dy}}
	\node[slab] (md1) at (3443,92) {$M_1$};
	\node[slab] (md2) at (3443,141) {$M_2$};
	\node[slab] (md3) at (3438,182) {$M_3$};
	\node[slab,font=\fontsize{6}{6}\selectfont\bfseries] (ddots) at (3423,215) {......};
	\node[slab] (decl) at (3422,226) {Decoder};
	\coordinate (ef) at (3390,138);
	\draw[gray,line width=.35pt] (ef) .. controls (3395,125) and (3392,110) .. (3401,107);
	\draw[gray,line width=.35pt] (ef) .. controls (3392,150) and (3392,155) .. (3402,155);
	\draw[gray,line width=.35pt] (ef) .. controls (3388,180) and (3385,200) .. (3396,200);
	\draw[black!65,line width=.7pt,rounded corners=6bp,fill=white] (3463,89) rectangle (3605,214);
	\draw[gray,line width=.35pt] (3462,122) .. controls (3452,128) and (3458,150) .. (3450,155) .. controls (3458,160) and (3452,186) .. (3462,191);
	\begin{scope}[shift={(3260,75)},scale=1/3]
		\fill[green!25!cyan!18] (716,45) rectangle (908,135);
		\foreach \ly in {60,77,94,111,122} {\fill[gray!70] (730,\ly) rectangle (760,{\ly+2}); \fill[gray!70] (835,\ly) rectangle (880,{\ly+2}); \fill[netblue] (820,{\ly-2}) rectangle (826,{\ly+4});}
		\foreach \xa/\ya/\xb/\yb/\cl in {618/75/625/205/netblue,630/75/637/205/green!60!gray,970/75/980/210/green!60!gray,980/75/984/210/netblue,993/75/998/210/netblue,1010/75/1015/210/netblue,1030/75/1035/210/netblue,632/225/640/292/netblue,645/225/655/292/netblue,662/225/672/292/green!60!gray,920/225/928/292/green!60!gray,928/225/940/292/netblue,955/225/962/292/netblue,975/225/982/292/netblue,662/308/672/345/netblue,683/308/693/345/netblue,705/308/717/345/green!60!gray,862/308/874/345/green!60!gray,874/308/888/345/netblue,902/308/913/345/netblue,928/308/940/345/netblue,705/357/716/380/netblue,728/357/742/380/netblue,752/357/767/380/green!60!gray,798/357/814/380/green!60!gray,814/357/835/380/netblue,850/357/865/380/netblue,877/357/890/380/netblue,752/393/766/403/netblue,780/393/800/403/netblue,815/393/835/403/netblue,804/404/810/412/green!60!black}
			\fill[\cl] (\xa,\ya) rectangle (\xb,\yb);
		\foreach \xa/\xb/\ay in {650/958/143,680/910/258,722/850/323,772/792/368} \draw[gray,line width=.3pt,-{Stealth[length=1.5pt]}] (\xa,\ay) -- (\xb,\ay);
		\foreach \ox/\cl/\ba/\bb/\bc/\bd in {82/violet!50!blue!45/537/513/587/541,312/blue!45!cyan!45!violet!55/600/535/551/510,543/blue!25!gray!65/580/536/513/541,816/green!45/568/513/518/541} {
			\draw[red!40!gray,line width=.3pt] (\ox,500) -- (\ox,613) -- ({\ox+165},613);
			\fill[\cl] ({\ox+2},\ba) rectangle ({\ox+23},612);
			\fill[\cl] ({\ox+43},\bb) rectangle ({\ox+64},612);
			\fill[\cl] ({\ox+85},\bc) rectangle ({\ox+106},612);
			\fill[\cl] ({\ox+127},\bd) rectangle ({\ox+148},612);
			\node[slab,rotate=90,font=\fontsize{2.8}{3}\selectfont] at ({\ox-11},508) {Probability};
			\node[slab,font=\fontsize{3.3}{4}\selectfont] at ({\ox+76},628) {Prediction map};
			\node[slab,font=\fontsize{3}{4}\selectfont] at ({\ox+168},625) {Class};
		}
		\draw[densely dashed,black!65,line width=.4pt] (757,500) -- (757,657);
	\end{scope}
	\node[slab] (unet) at (3590,209) {Unet};
	\node[garrow,shape border rotate=270,minimum height=9bp,minimum width=6.5bp] (parr) at (3536,223.5) {};
	\node[slab] (predict) at (3555,223) {Prediction};
	\draw[black!65,line width=.7pt,rounded corners=3bp] (3276,233) rectangle (3605,308);
	\node[slab] (unsl) at (3395,300) {Unsupervised learning};
	\node[slab] (supl) at (3563,299) {Supervised learning};
	\node[capt] (cap3) at (3445,332) {Figure 3: Diagram of segmentation model architecture.};
	%% page 4 column 2
	\node[eqnode] (eq11) at (3446,419) {$\displaystyle p'\left(y|x;\varepsilon_m\right)=\frac{p(y|x;\varepsilon_m)^{1/T}}{p(y|x;\varepsilon_m)^{1/T}+(1-p(y|x;\varepsilon_m))^{1/T}}.$};
	\num{n11}{3625.5}{443}{11}
	\blk{txt}{ua}{3265}{458.5}{
		\LL{\,where $x$ is the input of segmentation model. $\varepsilon_m$ is the pa-}
		\LL{rameter of the network $M_m$, and $p\left(y|x;\varepsilon_m\right)$ is the output of}
		\LL{the network $M_m$. $T$ represents the hyper-parameter to con-}
		\LE{trol the temperature of sharpening.}}
	\blk{txt}{ub}{3265}{535}{
		\LL{\textbf{Uncertainty evaluation method}\quad Based on $p'\left(y|x;\varepsilon_m\right)$, a}
		\LL{novel method is formulated to assess uncertainty within the}
		\LE{SSL-DG, which is delineated as:}}
	\node[eqnode] (eq12) at (3443,612) {$\displaystyle p_{avg}^{i}=\sum_{m=2}^{k}{p'}_{m}^{i},$};
	\num{n12}{3625.5}{612}{12}
	\node[eqnode] (eq13) at (3445,672) {$\displaystyle U_m^i=\sum_{m=1}^{k}{p'}_{m}^{i}\cdot\log\frac{{p'}_{m}^{i}}{p_{avg}^{i}},$};
	\num{n13}{3625.5}{672}{13}
	\blk{txt}{uc}{3265}{711}{
		\LL{\ind where $k$ symbolizes the total number of segmentation}
		\vskip1.6pt
		\LL{branches. ${p'}_{m}^{i}$ signifies the probability of pixel $i$ belong to}
		\vskip1.3pt
		\LL{the organs. $U_m^i$ is the uncertainty of pixel $i$ at the output of}
		\LL{$M_m$. And $p_{avg}^{i}$ represents the outputs' average probabilities.}
		\LL{\ind Uncertainty at the output of $M_m$ is calculated by deter-}
		\vskip1.6pt
		\LL{mining the difference between ${p'}_{m}^{i}$ and $p_{avg}^{i}$. We performed}
		\LL{uncertainty estimations on multiple branches within the self-}
		\LL{supervised learning domain to yield the uncertainty estima-}
		\LE{tion set $U_M$.}}
	\node[eqnode] (eq14) at (3445,899) {$\displaystyle U_m=\frac{1}{N}\sum_{i=1}^{N}{p'}_{m}^{i}.$};
	\num{n14}{3625.5}{899}{14}
	\blk{txt}{ud}{3265}{937.5}{
		\LE{where $N$ corresponds to the total pixels in the image.}}
	\blk{txt}{ue}{3265}{964.7}{
		\LL{\textbf{Consistency Loss}\quad Based on the proposed uncertainty}
		\LL{evaluation method, we further construct the uncertainty es-}
		\LL{timation loss $L_{une}$ and the uncertainty revised loss $L_{urm}$.}
		\LL{And the sum of $L_{uec}$ and $L_{unr}$ provides the consistency loss}
		\LE{based on uncertainty estimation $L_{uec}$, defined as:}}
	\node[eqnode] (eq15) at (3444,1059) {$L_{uec}=\partial L_{une}+(1-\partial)L_{unr},$};
	\num{n15}{3625.5}{1059}{15}
	%% page 5
	\node[eqnode] (eq16) at (3973,122.5) {$\displaystyle L_{une}=\frac{1}{k-1}\sum_{m=2}^{k}U_m,$};
	\num{n16}{4153}{122.5}{16}
	\node[eqnode] (eq17) at (3959,205.5) {$\displaystyle L_{unr}=\frac{1}{k-1}\sum_{m=2}^{k}\frac{\sum\limits_{i=1}^{N}\left\|{p'}_{m}^{i}-p_{avg}^{i}\right\|_2\cdot\varpi_m^i}{\sum\limits_{i=1}^{N}\varpi_m^i}.$};
	\num{n17}{4153}{205.5}{17}
	\blk{txt}{va}{3791}{264}{
		\LL{where $\partial$ is the weights to balance the impact of the $L_{une}$}
		\LL{and $L_{unr}$. $k$ is the total number of branches. $\varpi_m^i$ is a recti-}
		\LL{fying weight, which can be defined as $\varpi_m^i=e^{-U_m^i}$. The aim}
		\LL{of $L_{unr}$ is to emphasize reliable parts and ignore unreliable}
		\LL{parts of the predictions for stable self-supervised training.}
		\LL{$L_{une}$ works to decrease prediction entropy, furtherly boost-}
		\LE{ing the method's robustness and generalization.}}
	\node[sub] (dml) at (3791,398.8) {Deep Mutual Learning Strategy};
	\blk{narrow}{vb}{3791}{419.8}{
		\LL{The consistency loss based on uncertainty estimation es-}
		\LL{tablishes the connection between various branches' outputs,}
		\LL{corresponding to decision-level fusion. To augment weight}
		\LL{sharing within each branch, we devise an intermediate}
		\LL{weight-sharing strategy termed deep mutual learning $L_{wsm}$,}
		\LL{as the intermediate-level fusion. It takes $p\left(y_{output}|x,\varepsilon_m\right)$ as}
		\LL{input and establishes a weight-sharing mechanism for dif-}
		\LE{ferent segmentation networks via Mean Squared Error loss.}}
	\node[eqnode] (eq18) at (3975,568) {$\displaystyle L_{wsm}=\frac{1}{N\left(k-2\right)}\sum_{m=2,m\neq j}^{k}\sum_{i=1}^{N}\left(p\left(y_j|x,\varepsilon_j\right)-p\left(y_i|x,\varepsilon_m\right)\right)^2,$};
	\num{n18}{4153}{596}{18}
	\blk{txt}{vc}{3791}{616}{
		\LL{\,where $k$ is the total number of branches in the segmentation}
		\LL{model, $p\left(y_i|x,\varepsilon_m\right)$ is the probability obtained by branch}
		\LE{$M_m$ of pixel $i$ belong to the lesion or organ.}}
	\node[sub] (overall) at (3791,680.4) {The Overall Objective Loss Function};
	\blk{txt}{vd}{3791}{702.6}{
		\LL{We merge consistency loss based on uncertainty estimation}
		\LL{and mutual learning strategies as the overall loss of self-}
		\LL{supervised learning. SSL-DG incorporates both fully super-}
		\LL{vised and self-supervised learning. Consequently, we use a}
		\LL{weighted amalgamation of these two components, encapsu-}
		\LL{lated in Eq. 20. Note that the $L_{sup}$ is the Dice loss, and $\mu$ is}
		\LL{tradeoff weights responsible for balancing the influence of}
		\LE{two terms.}}
	\node[eqnode,anchor=west] (eq19) at (3866,846) {$L_{unsup}=\gamma L_{uec}+\left(1-\gamma\right)L_{wsm},$};
	\num{n19}{4153}{846}{19}
	\node[eqnode,anchor=west] (eq20) at (3866,874.4) {$L_{total}=\mu L_{sup}+\left(1-\mu L\right)_{unsup}.$};
	\num{n20}{4153}{874.4}{20}
	\node[head] (exper) at (3972,913.8) {Experiment and Results};
	\node[sub] (datap) at (3791,937.5) {Data and Processing};
	\blk{txt}{ve}{3791}{959.7}{
		\LL{We assess the performance of SSL-DG using cross-modality}
		\LL{abdominal datasets[43, 44] and cross-sequence cardiac}
		\LL{datasets [45]. Our dataset division and pre-processing}
		\LL{method are based on the procedures outlined by [46]. To}
		\LL{provide a more in-depth understanding of our experiments,}
		\LL{we will open-source relevant code. During data processing,}
		\LL{we adopt the weak augmentation [30], which encompass}}
	\blk{txt}{wa}{4195}{92.6}{
		\LL{Affine, Elastic, Brightness, Contrast, Gamma, and Additive}
		\LL{Gaussian Noise. And domain diffusion augmentation is used}
		\LL{as additional stages after the weak augmentation. To main-}
		\LL{tain a fair comparative ground, all competing methods use}
		\LL{the weak augmentation. Additionally, it is noteworthy that}
		\LL{scholarly investigations to date have predominantly concen-}
		\LL{trated on individual aspects of SSL or DG. However, a holis-}
		\LL{tic approach that synergistically amalgamates these dual as-}
		\LL{pects remains largely unexplored. Thus, in assessing the per-}
		\LL{formance of SSL-DG, we proceed by independently con-}
		\LE{trasting it with both SSL and DG.}}
	\node[sub] (impl) at (4195,289) {Implementation Details};
	\blk{txt}{wb}{4195}{310}{
		\LL{We develop a segmentation network underpinned by the U-}
		\LL{Net architecture, which is trained initio, eschewing the use}
		\LL{of pre-training. The grid sizes $g$ for abdominal and cardiac}
		\LL{datasets are empirically determined at 3 and 18, respectively.}
		\LL{Each dataset is processed in batch size of 16, composed of}
		\LL{an equal split between annotated and unannotated patches.}
		\LL{Optimization is performed using the Adam with a set ini-}
		\LL{tial learning rate of $5\times10^{-3}$ and a weight decay factor of}
		\LL{$3\times10^{-5}$. The framework is deployed on a workstation fur-}
		\LL{nished with a NVIDIA GeForce RTX 3080 GPU, possessing}
		\LE{a memory capacity of 10G.}}
	\node[sub] (resl) at (4195,507) {Results and Comparative Analysis};
	\blk{txt}{wc}{4195}{528}{
		\LL{\textbf{Quantitative Comparsion}\quad To substantiate the superiority}
		\LL{of our proposed SSL-DG, we benchmark its performance}
		\LL{against an array of state-of-the-art DG and SSL methodolo-}
		\LL{gies, including Feddg [47], Sadn [36], SLAug [46], SASS-}
		\LL{NeT [48], DTC [49], and MC-net+ [31]. These methods are}
		\LL{applied across a variety of annotated data configurations to}
		\LL{demonstrate the heightened robustness and generalization of}
		\LL{SSL-DG. To ensure fair comparison, the weak augmenta-}
		\LL{tion is utilized across all methods. The performances of U-}
		\LL{net with varying annotated samples on the target domain are}
		\LL{also reported, acting as an upper bound. The Dice score is}
		\LL{deployed as the principal evaluation metric for gauging in-}
		\LE{stance segmentation.}}
	\blk{txt}{wd}{4195}{743.9}{
		\LL{\ind The quantitative performance of SSL-DG and the com-}
		\LL{pared methods is presented in Tab. 1 and 2. With the ap-}
		\LL{plication of 50\% annotated samples, SSL-DG enhances the}
		\LL{Dice score by 5.77\% relative to the most recent standalone}
		\LL{DG work, SLAug, on the target domain MRI. Additionally,}
		\LL{as the proportion of annotated samples is diminished fur-}
		\LL{ther, the preeminence of SSL-DG becomes increasingly ap-}
		\LL{parent. This phenomenon also can be observed on other tar-}
		\LL{get domains. Notably, on the target domain LGE, SSL-DG}
		\LL{surpasses the upper bound of performance with the applica-}
		\LL{tion of 50\% annotated samples. This highlights SSL-DG's}
		\LL{capability to address domain shift and its effectiveness in}
		\LL{unannotated data feature learning. The performance of SSL}
		\LL{methodologies devoid of domain adaptation is markedly}
		\LL{lower. The domain shift across disparate multimodals pre-}
		\LL{cipitated a severe degradation in the performance of the SSL}
		\LL{model. Overall, the experimental findings affirm that SSL-}
		\LL{DG delivers superior results across evaluation metrics, and}
		\LL{significantly outpaces its competitors in Dice score when}
		\LL{equal numbers of annotated samples are used. Moreover, we}}
\end{tikzpicture}
\end{document}
